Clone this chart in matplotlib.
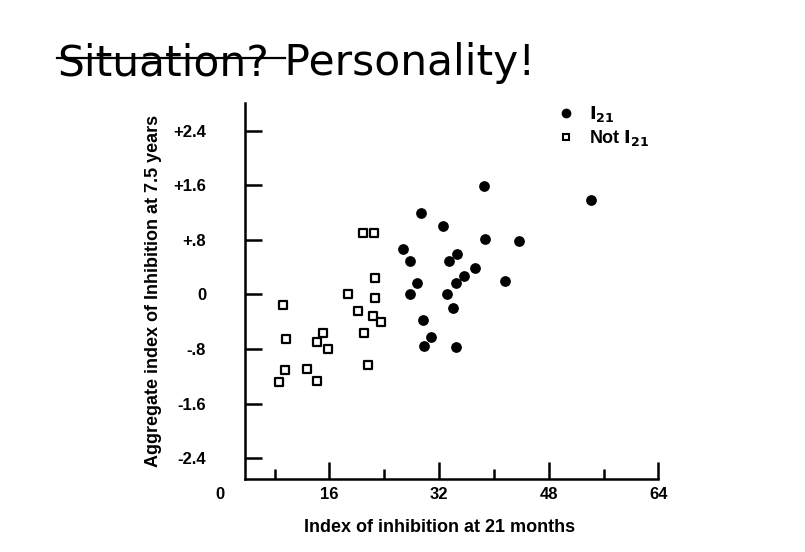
import matplotlib
matplotlib.use("Agg")
import matplotlib.pyplot as plt
from matplotlib.lines import Line2D

# I21 group (filled circles)
i21_x = [38.6, 54.2, 29.3, 32.6, 38.7, 43.7, 26.8, 34.6, 27.7, 33.4, 37.3,
         35.7, 28.8, 34.5, 41.6, 27.8, 33.2, 34.0, 29.7, 30.8, 29.8, 34.5]
i21_y = [1.59, 1.38, 1.19, 1.00, 0.81, 0.78, 0.67, 0.59, 0.49, 0.49, 0.38,
         0.27, 0.16, 0.17, 0.20, 0.0, 0.0, -0.20, -0.37, -0.63, -0.76, -0.77]
# Not I21 group (open squares)
not_x = [20.9, 22.5, 22.6, 18.7, 22.6, 9.2, 20.2, 22.3, 23.5, 21.0, 15.1,
         9.7, 14.2, 15.8, 21.6, 9.5, 12.7, 8.7, 14.2]
not_y = [0.90, 0.90, 0.24, 0.0, -0.05, -0.15, -0.25, -0.32, -0.40, -0.56, -0.57,
         -0.66, -0.70, -0.80, -1.04, -1.11, -1.10, -1.29, -1.27]

x_ticks = [0, 16, 32, 48, 64]
y_ticks = [-2.4, -1.6, -0.8, 0, 0.8, 1.6, 2.4]
y_labels = ["-2.4", "-1.6", "-.8", "0", "+.8", "+1.6", "+2.4"]

FONT = "Liberation Sans"

fig = plt.figure(figsize=(8.05, 5.52), dpi=100)
ax = fig.add_axes([0.273, 0.133, 0.545, 0.680])

ax.scatter(i21_x, i21_y, s=45, c="black", marker="o", zorder=3)
ax.scatter(not_x, not_y, s=28, facecolors="white", edgecolors="black",
           marker="s", linewidths=1.6, zorder=3)

ax.set_xlim(0, 64)
ax.set_ylim(-2.7, 2.8)
for s in ("top", "right"):
    ax.spines[s].set_visible(False)
ax.spines["left"].set_position(("data", 3.7))
ax.spines["bottom"].set_bounds(3.7, 64)
ax.spines["left"].set_bounds(-2.7, 2.8)
for s in ("left", "bottom"):
    ax.spines[s].set_linewidth(1.8)

ax.set_xticks(x_ticks)
ax.set_yticks(y_ticks)
ax.set_yticklabels(y_labels)
ax.set_xticks([8, 24, 40, 56], minor=True)
ax.tick_params(axis="both", direction="in", length=12, width=1.8, labelsize=12)
ax.tick_params(axis="x", which="minor", direction="in", length=7, width=1.8)
ax.tick_params(axis="x", pad=6)
ax.tick_params(axis="y", pad=28)
ax.xaxis.get_major_ticks()[0].tick1line.set_visible(False)
for lab in ax.get_xticklabels() + ax.get_yticklabels():
    lab.set_fontweight("bold")
    lab.set_fontfamily(FONT)

ax.set_xlabel("Index of inhibition at 21 months", fontsize=13, fontweight="bold",
              fontfamily=FONT, labelpad=12)
ax.set_ylabel("Aggregate index of Inhibition at 7.5 years", fontsize=13,
              fontweight="bold", fontfamily=FONT, labelpad=8)

handles = [
    Line2D([], [], marker="o", color="black", linestyle="", markersize=6),
    Line2D([], [], marker="s", markerfacecolor="white", markeredgecolor="black",
           markeredgewidth=1.5, linestyle="", markersize=5),
]
ax.legend(handles, [r"$\mathbf{I_{21}}$", r"Not $\mathbf{I_{21}}$"], loc="upper left",
          bbox_to_anchor=(0.71, 1.04), frameon=False, handletextpad=0.3,
          labelspacing=0.2, prop={"family": FONT, "weight": "bold", "size": 13})

# slide title with "Situation?" struck through
t1 = fig.text(57 / 805, 1 - 75 / 552, "Situation?", fontsize=30.5, fontfamily="DejaVu Sans")
fig.canvas.draw()
bb = t1.get_window_extent()
fig.text(bb.x1 / 805 + 0.003, 1 - 75 / 552, " Personality!", fontsize=30.5, fontfamily="DejaVu Sans")
ystrike = (bb.y0 + 0.62 * (bb.y1 - bb.y0)) / 552
fig.add_artist(Line2D([bb.x0 / 805, bb.x1 / 805 + 0.02], [ystrike, ystrike],
                      color="black", linewidth=1.6, transform=fig.transFigure))

fig.savefig("out.png", dpi=100)
